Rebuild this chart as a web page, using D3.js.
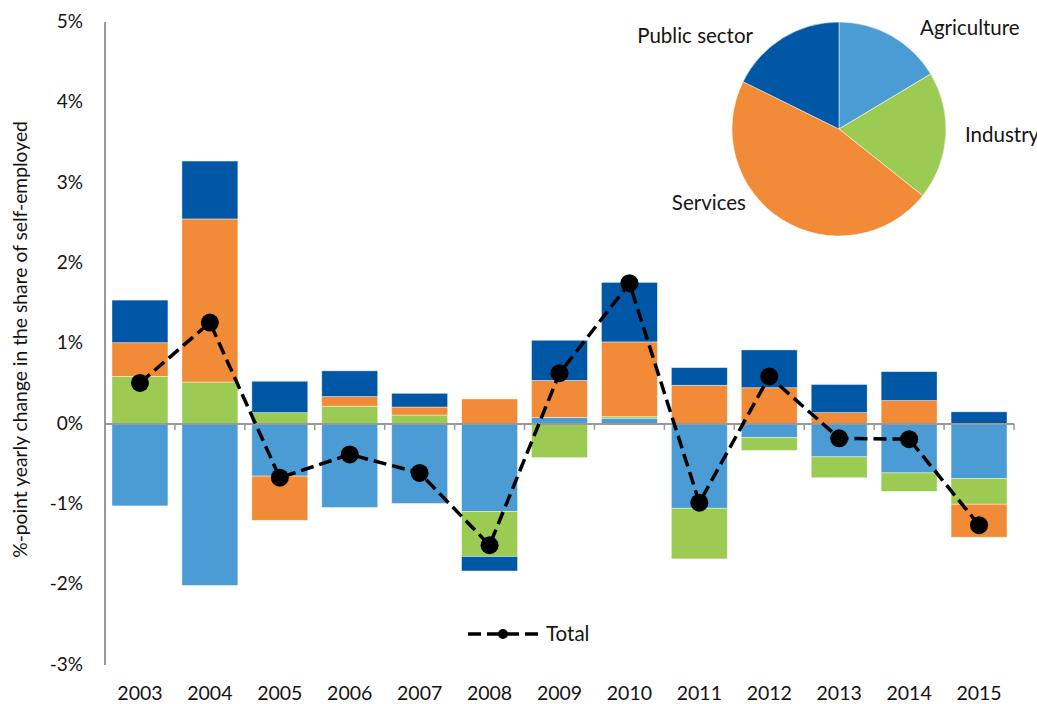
<!DOCTYPE html>
<html>
<head>
<meta charset="utf-8">
<script src="https://cdn.jsdelivr.net/npm/d3@7"></script>
<style>
  body { margin: 0; background: #fff; }
  text { font-family: Lato, "Open Sans", sans-serif; fill: #141414; }
</style>
</head>
<body>
<script>
// data (%-points)
const years = ['2003','2004','2005','2006','2007','2008','2009','2010','2011','2012','2013','2014','2015'];
const agriculture = [-1.02, -2.01, -0.65, -1.04, -0.99, -1.09, 0.08, 0.07, -1.05, -0.17, -0.41, -0.61, -0.68];
const industry    = [0.59, 0.52, 0.14, 0.22, 0.11, -0.56, -0.42, 0.02, -0.63, -0.16, -0.26, -0.23, -0.32];
const services    = [0.42, 2.03, -0.55, 0.12, 0.10, 0.31, 0.46, 0.93, 0.48, 0.45, 0.14, 0.29, -0.41];
const publicSector= [0.53, 0.72, 0.39, 0.32, 0.17, -0.18, 0.50, 0.74, 0.22, 0.47, 0.35, 0.36, 0.15];
const total       = [0.51, 1.26, -0.67, -0.38, -0.61, -1.51, 0.63, 1.75, -0.98, 0.59, -0.18, -0.19, -1.26];

const sectors = ['Agriculture', 'Industry', 'Services', 'Public sector'];
const pieShares = [16.4, 19.3, 46.6, 17.7];
const yTicks = [-3, -2, -1, 0, 1, 2, 3, 4, 5];

const colors = {
  'Agriculture': '#4b9cd5',
  'Industry': '#9bcb53',
  'Services': '#f28b37',
  'Public sector': '#0057a6'
};

const outerWidth = 1037;
const outerHeight = 704;

const svg = d3.select('body')
  .append('svg')
  .attr('width', outerWidth)
  .attr('height', outerHeight);

const table = years.map((y, i) => ({
  year: y,
  'Agriculture': agriculture[i],
  'Industry': industry[i],
  'Services': services[i],
  'Public sector': publicSector[i],
  total: total[i]
}));

const xScale = d3.scaleBand()
  .domain(years)
  .range([105, 1014])
  .paddingInner(0.2)
  .paddingOuter(0.1);

const yScale = d3.scaleLinear()
  .domain([-3, 5])
  .range([665, 22]);

const series = d3.stack()
  .keys(sectors)
  .offset(d3.stackOffsetDiverging)(table);

// bars
svg.append('g')
  .selectAll('g')
  .data(series)
  .join('g')
  .attr('fill', d => colors[d.key])
  .selectAll('rect')
  .data(d => d)
  .join('rect')
  .attr('x', d => xScale(d.data.year))
  .attr('y', d => yScale(Math.max(d[0], d[1])))
  .attr('width', xScale.bandwidth())
  .attr('height', d => Math.abs(yScale(d[0]) - yScale(d[1])))
  .attr('stroke', '#fff')
  .attr('stroke-opacity', 0.5)
  .attr('stroke-width', 0.8);

// axes
const axisColor = '#999';
svg.append('line')
  .attr('x1', 105).attr('x2', 105)
  .attr('y1', yScale(5)).attr('y2', yScale(-3))
  .attr('stroke', axisColor)
  .attr('stroke-width', 2);

const step = xScale.step();
const x0 = xScale.range()[0];
svg.append('line')
  .attr('x1', x0).attr('x2', xScale.range()[1])
  .attr('y1', yScale(0)).attr('y2', yScale(0))
  .attr('stroke', axisColor)
  .attr('stroke-width', 2);

svg.append('g')
  .selectAll('line')
  .data(d3.range(1, years.length + 1))
  .join('line')
  .attr('x1', k => x0 + k * step)
  .attr('x2', k => x0 + k * step)
  .attr('y1', yScale(0))
  .attr('y2', yScale(0) + 6)
  .attr('stroke', axisColor)
  .attr('stroke-width', 1.5);

svg.append('g')
  .selectAll('text')
  .data(yTicks)
  .join('text')
  .attr('x', 83)
  .attr('y', d => yScale(d))
  .attr('dy', 1)
  .attr('text-anchor', 'end')
  .attr('dominant-baseline', 'middle')
  .attr('font-size', 19)
  .text(d => d + '%');

svg.append('g')
  .selectAll('text')
  .data(years)
  .join('text')
  .attr('x', d => xScale(d) + xScale.bandwidth() / 2)
  .attr('y', 695)
  .attr('text-anchor', 'middle')
  .attr('dominant-baseline', 'middle')
  .attr('font-size', 19.5)
  .text(d => d);

svg.append('text')
  .attr('transform', `translate(22, ${yScale(1.05)}) rotate(-90)`)
  .attr('text-anchor', 'middle')
  .attr('dominant-baseline', 'middle')
  .attr('font-size', 19.3)
  .text('%-point yearly change in the share of self-employed');

// total line
const line = d3.line()
  .x(d => xScale(d.year) + xScale.bandwidth() / 2)
  .y(d => yScale(d.total));

svg.append('path')
  .datum(table)
  .attr('d', line)
  .attr('fill', 'none')
  .attr('stroke', '#000')
  .attr('stroke-width', 3.5)
  .attr('stroke-dasharray', '13,6');

svg.append('g')
  .selectAll('circle')
  .data(table)
  .join('circle')
  .attr('cx', d => xScale(d.year) + xScale.bandwidth() / 2)
  .attr('cy', d => yScale(d.total))
  .attr('r', 9)
  .attr('fill', '#000');

// legend
const lg = svg.append('g').attr('transform', 'translate(468, 634)');
lg.append('line')
  .attr('x1', 0).attr('x2', 70)
  .attr('stroke', '#000')
  .attr('stroke-width', 3.5)
  .attr('stroke-dasharray', '13,6');
lg.append('circle').attr('cx', 35).attr('r', 5).attr('fill', '#000');
lg.append('text')
  .attr('x', 78)
  .attr('dy', 2)
  .attr('dominant-baseline', 'middle')
  .attr('font-size', 20.5)
  .text('Total');

// pie
const pieData = d3.pie().sort(null)(pieShares);
const arc = d3.arc().innerRadius(0).outerRadius(107);
const pg = svg.append('g').attr('transform', 'translate(839, 129)');
pg.selectAll('path')
  .data(pieData)
  .join('path')
  .attr('d', arc)
  .attr('fill', (d, i) => colors[sectors[i]])
  .attr('stroke', '#fff')
  .attr('stroke-width', 0.5);

// label placement relative to pie centre
const pieLabels = [
  { dx: 81, dy: -99, anchor: 'start' },
  { dx: 126, dy: 8, anchor: 'start' },
  { dx: -93, dy: 76, anchor: 'end' },
  { dx: -86, dy: -91, anchor: 'end' }
];
pg.selectAll('text')
  .data(sectors)
  .join('text')
  .attr('x', (d, i) => pieLabels[i].dx)
  .attr('y', (d, i) => pieLabels[i].dy)
  .attr('text-anchor', (d, i) => pieLabels[i].anchor)
  .attr('dominant-baseline', 'middle')
  .attr('font-size', 20.5)
  .text(d => d);
</script>
</body>
</html>
